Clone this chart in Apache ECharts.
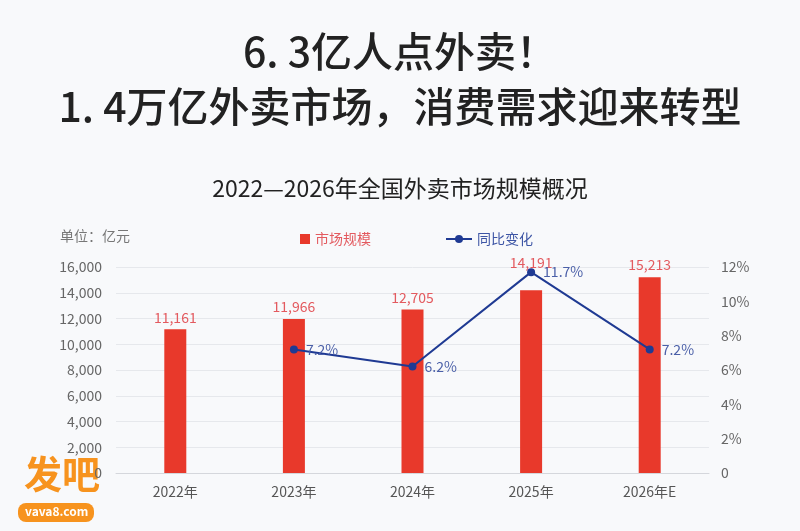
<!DOCTYPE html>
<html><head><meta charset="utf-8">
<script src="https://cdn.jsdelivr.net/npm/echarts@6/dist/echarts.min.js"></script>
<style>html,body{margin:0;padding:0;background:#f8f9fb}#c{width:800px;height:531px}</style>
</head><body><div id="c"></div>
<script>
const categories = ['2022年','2023年','2024年','2025年','2026年E'];
const marketSize = [11161, 11966, 12705, 14191, 15213];
const yoyChange = [null, 7.2, 6.2, 11.7, 7.2];
const leftTicks = {min:0, max:16000, interval:2000};
const rightTicks = {min:0, max:12, interval:2};

const chart = echarts.init(document.getElementById('c'));
const F = '"Noto Sans CJK SC","Noto Sans",sans-serif';
chart.setOption({
  backgroundColor:'#f8f9fb',
  textStyle:{fontFamily:F},
  title:[
    {text:'6. 3亿人点外卖！',left:'center',top:26,textStyle:{fontSize:41,fontWeight:500,color:'#222',fontFamily:F}},
    {text:'1. 4万亿外卖市场，消费需求迎来转型',left:'center',top:81,textStyle:{fontSize:41,fontWeight:500,color:'#222',fontFamily:F}},
    {text:'2022—2026年全国外卖市场规模概况',left:'center',top:172,textStyle:{fontSize:23,fontWeight:'normal',color:'#222',fontFamily:F}}
  ],
  graphic:[
    {type:'text',left:60,top:229,style:{text:'单位：亿元',fill:'#777',font:'14px '+F}},
    {type:'text',left:24,top:455,style:{text:'发吧',fill:'#f7931e',font:'bold 38px '+F}},
    {type:'rect',left:18,top:503,shape:{width:76,height:19,r:8},style:{fill:'#f7931e'}},
    {type:'text',left:25,top:505,style:{text:'vava8.com',fill:'#fff',font:'bold 12px '+F}}
  ],
  legend:[
    {top:227,left:295,itemWidth:10,itemHeight:10,
     textStyle:{fontSize:14,fontFamily:F,color:'#e35a5f'},
     data:[{name:'市场规模',icon:'rect',itemStyle:{color:'#e8392b'}}]},
    {top:227,left:440,itemWidth:26,itemHeight:10,
     textStyle:{fontSize:14,fontFamily:F,color:'#3d55a5'},
     data:[{name:'同比变化'}]}
  ],
  grid:{left:116,right:91,top:267,bottom:58},
  xAxis:{type:'category',data:categories,
    axisLine:{lineStyle:{color:'#d5d7dc'}},axisTick:{show:false},
    axisLabel:{color:'#555',fontSize:14,margin:12}},
  yAxis:[
    {type:'value',min:leftTicks.min,max:leftTicks.max,interval:leftTicks.interval,
     axisLabel:{color:'#666',fontSize:14,margin:14,formatter:v=>v.toLocaleString('en-US')},
     splitLine:{lineStyle:{color:'#e6e8ec'}},axisLine:{show:false},axisTick:{show:false}},
    {type:'value',min:rightTicks.min,max:rightTicks.max,interval:rightTicks.interval,
     axisLabel:{color:'#666',fontSize:14,margin:12,formatter:v=>v===0?'0':v+'%'},
     splitLine:{show:false},axisLine:{show:false},axisTick:{show:false}}
  ],
  series:[
    {name:'市场规模',type:'bar',barWidth:22,itemStyle:{color:'#e8392b'},
     data:marketSize.map((v,i)=>i===3?{value:v,label:{offset:[0,-16]}}:v),
     label:{show:true,position:'top',distance:5,color:'#e35a5f',fontSize:14,
       formatter:p=>p.value.toLocaleString('en-US')}},
    {name:'同比变化',type:'line',yAxisIndex:1,data:yoyChange,
     symbol:'circle',symbolSize:8,
     lineStyle:{color:'#1f3a93',width:2},itemStyle:{color:'#1f3a93'},
     label:{show:true,position:'right',distance:8,color:'#4a5fa8',fontSize:14,formatter:p=>p.value+'%'}}
  ]
});
</script></body></html>
